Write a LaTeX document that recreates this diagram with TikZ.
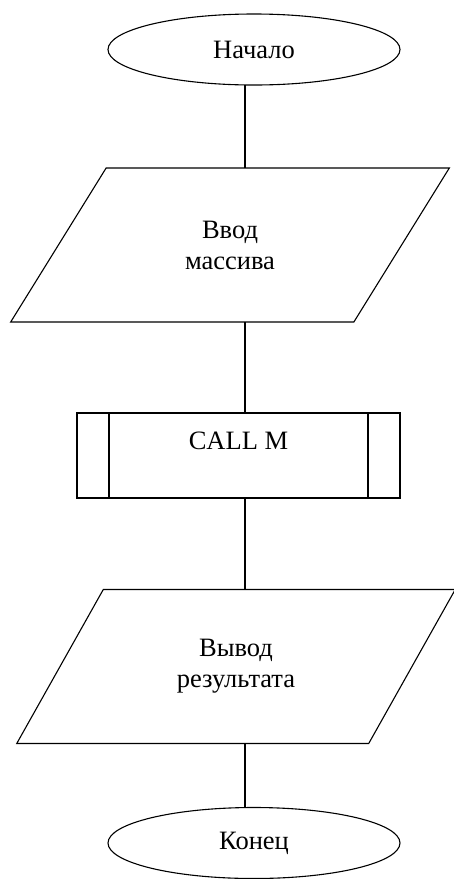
\documentclass[tikz,border=0pt]{standalone}
\usepackage{fontspec}
\setmainfont{Liberation Serif}
\usetikzlibrary{shapes.geometric}

\begin{document}
\begin{tikzpicture}[
        x=1pt, y=-1pt,
        every node/.style={color=black, font=\fontsize{26.5}{31}\selectfont},
        block line/.style={line width=1.1pt},
        terminal/.style={block line, draw, ellipse, minimum width=292pt, minimum height=71pt, inner sep=0pt, outer sep=0pt},
        io/.style={block line, draw, trapezium, trapezium left angle=54.5, trapezium right angle=125.5,
            trapezium stretches=true, minimum width=439pt, minimum height=154pt, align=center, inner sep=0pt, outer sep=0pt},
        subproc/.style={block line, draw, rectangle, minimum width=323pt, minimum height=85pt, inner sep=0pt, outer sep=0pt},
        flow/.style={block line}
    ]
    \useasboundingbox (0,0) rectangle (453,879);
    % all connectors run down this vertical
    \coordinate (spine) at (245,0);

    \node[terminal] (start) at (254,49.5) {Начало};
    \node[io] (vvod) at (230,245) {Ввод\\массива};
    \node[subproc, text height=17pt, text depth=30pt] (call) at (238.5,455.5) {CALL M};
    \draw[block line] ([xshift=32pt]call.north west) -- ([xshift=32pt]call.south west)
                      ([xshift=-32pt]call.north east) -- ([xshift=-32pt]call.south east);
    \node[io] (vyvod) at (236,666.5) {Вывод\\результата};
    \node[terminal] (stop) at (254,843) {Конец};

    \foreach \a/\b in {start/vvod, vvod/call, call/vyvod, vyvod/stop}
        \draw[flow] (\a.south -| spine) -- (\b.north -| spine);
\end{tikzpicture}
\end{document}
